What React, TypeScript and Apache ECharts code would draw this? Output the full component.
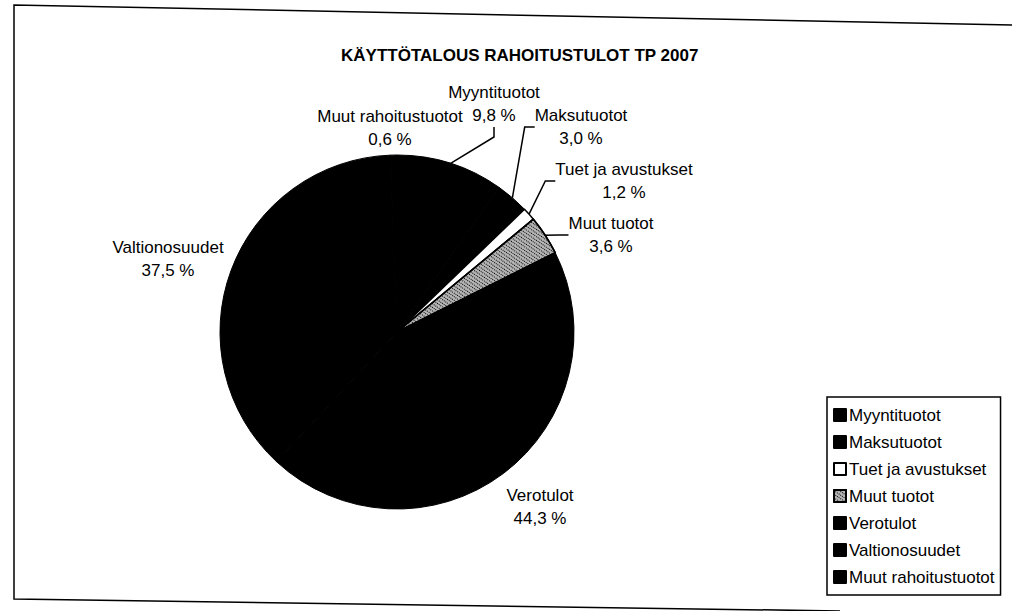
import React, { useEffect, useRef } from "react";
import * as echarts from "echarts";

const titleText = "KÄYTTÖTALOUS RAHOITUSTULOT TP 2007";
const categories = [
  "Myyntituotot",
  "Maksutuotot",
  "Tuet ja avustukset",
  "Muut tuotot",
  "Verotulot",
  "Valtionosuudet",
  "Muut rahoitustuotot",
];
const shares = [9.8, 3.0, 1.2, 3.6, 44.3, 37.5, 0.6];

// label layout (positions of label centres), not data
const labelCentres = [
  [494, 104],
  [581, 127],
  [624, 181],
  [611, 235],
  [540, 507],
  [168, 259],
  [390, 128],
];
const showLeader = [true, true, true, true, false, false, false];

const FONT = "'Liberation Sans', Arial, sans-serif";

function sliceStyle(i: number) {
  if (i === 2) return { color: "#ffffff", borderColor: "#000", borderWidth: 1.5 };
  if (i === 3)
    return {
      color: "#b4b4b4",
      borderColor: "#000",
      borderWidth: 1.5,
      decal: {
        symbol: "rect",
        symbolSize: 1,
        color: "#000",
        dashArrayX: [1, 1],
        dashArrayY: [1, 2],
        rotation: 0.6,
      },
    };
  return { color: "#000000", borderColor: "#000", borderWidth: 1 };
}

export default function App() {
  const ref = useRef<HTMLDivElement>(null);
  useEffect(() => {
    document.body.style.margin = "0";
    const chart = echarts.init(ref.current!, null, { renderer: "svg" });
    const fmt = (v: number) => v.toFixed(1).replace(".", ",") + " %";
    chart.setOption({
      animation: false,
      backgroundColor: "#ffffff",
      title: {
        text: titleText,
        left: 336,
        top: 42,
        textStyle: { fontFamily: FONT, fontSize: 17, fontWeight: "bold", color: "#000" },
      },
      legend: {
        orient: "vertical",
        left: 827,
        top: 397,
        data: categories,
        itemWidth: 12,
        itemHeight: 12,
        itemGap: 9,
        padding: [9, 6, 9, 6],
        borderColor: "#000",
        borderWidth: 1.5,
        icon: "rect",
        textStyle: {
          fontFamily: FONT,
          fontSize: 17,
          lineHeight: 18,
          color: "#000",
          padding: [0, 0, 0, -2],
        },
      },
      graphic: [
        {
          type: "polyline",
          shape: { points: [[1012, 25], [14, 5], [14, 599], [840, 611]] },
          style: { stroke: "#000", lineWidth: 1.5, fill: null },
          silent: true,
        },
      ],
      series: [
        {
          type: "pie",
          center: [397, 332],
          radius: 177,
          startAngle: 90,
          clockwise: true,
          avoidLabelOverlap: false,
          label: {
            show: true,
            position: "outside",
            fontFamily: FONT,
            fontSize: 17,
            color: "#000",
            lineHeight: 23,
            align: "center",
            formatter: (p: any) => p.name + "\n" + fmt(p.value),
          },
          labelLine: {
            show: true,
            length: 10,
            length2: 10,
            lineStyle: { color: "#000", width: 1.5 },
          },
          labelLayout: (p: any) => {
            const c = labelCentres[p.dataIndex];
            return { x: c[0], y: c[1], align: "center", verticalAlign: "middle" };
          },
          data: categories.map((name, i) => ({
            name,
            value: shares[i],
            itemStyle: sliceStyle(i),
            labelLine: { show: showLeader[i] },
          })),
        },
      ],
    });
    return () => chart.dispose();
  }, []);
  return <div ref={ref} style={{ width: 1012, height: 611 }} />;
}
